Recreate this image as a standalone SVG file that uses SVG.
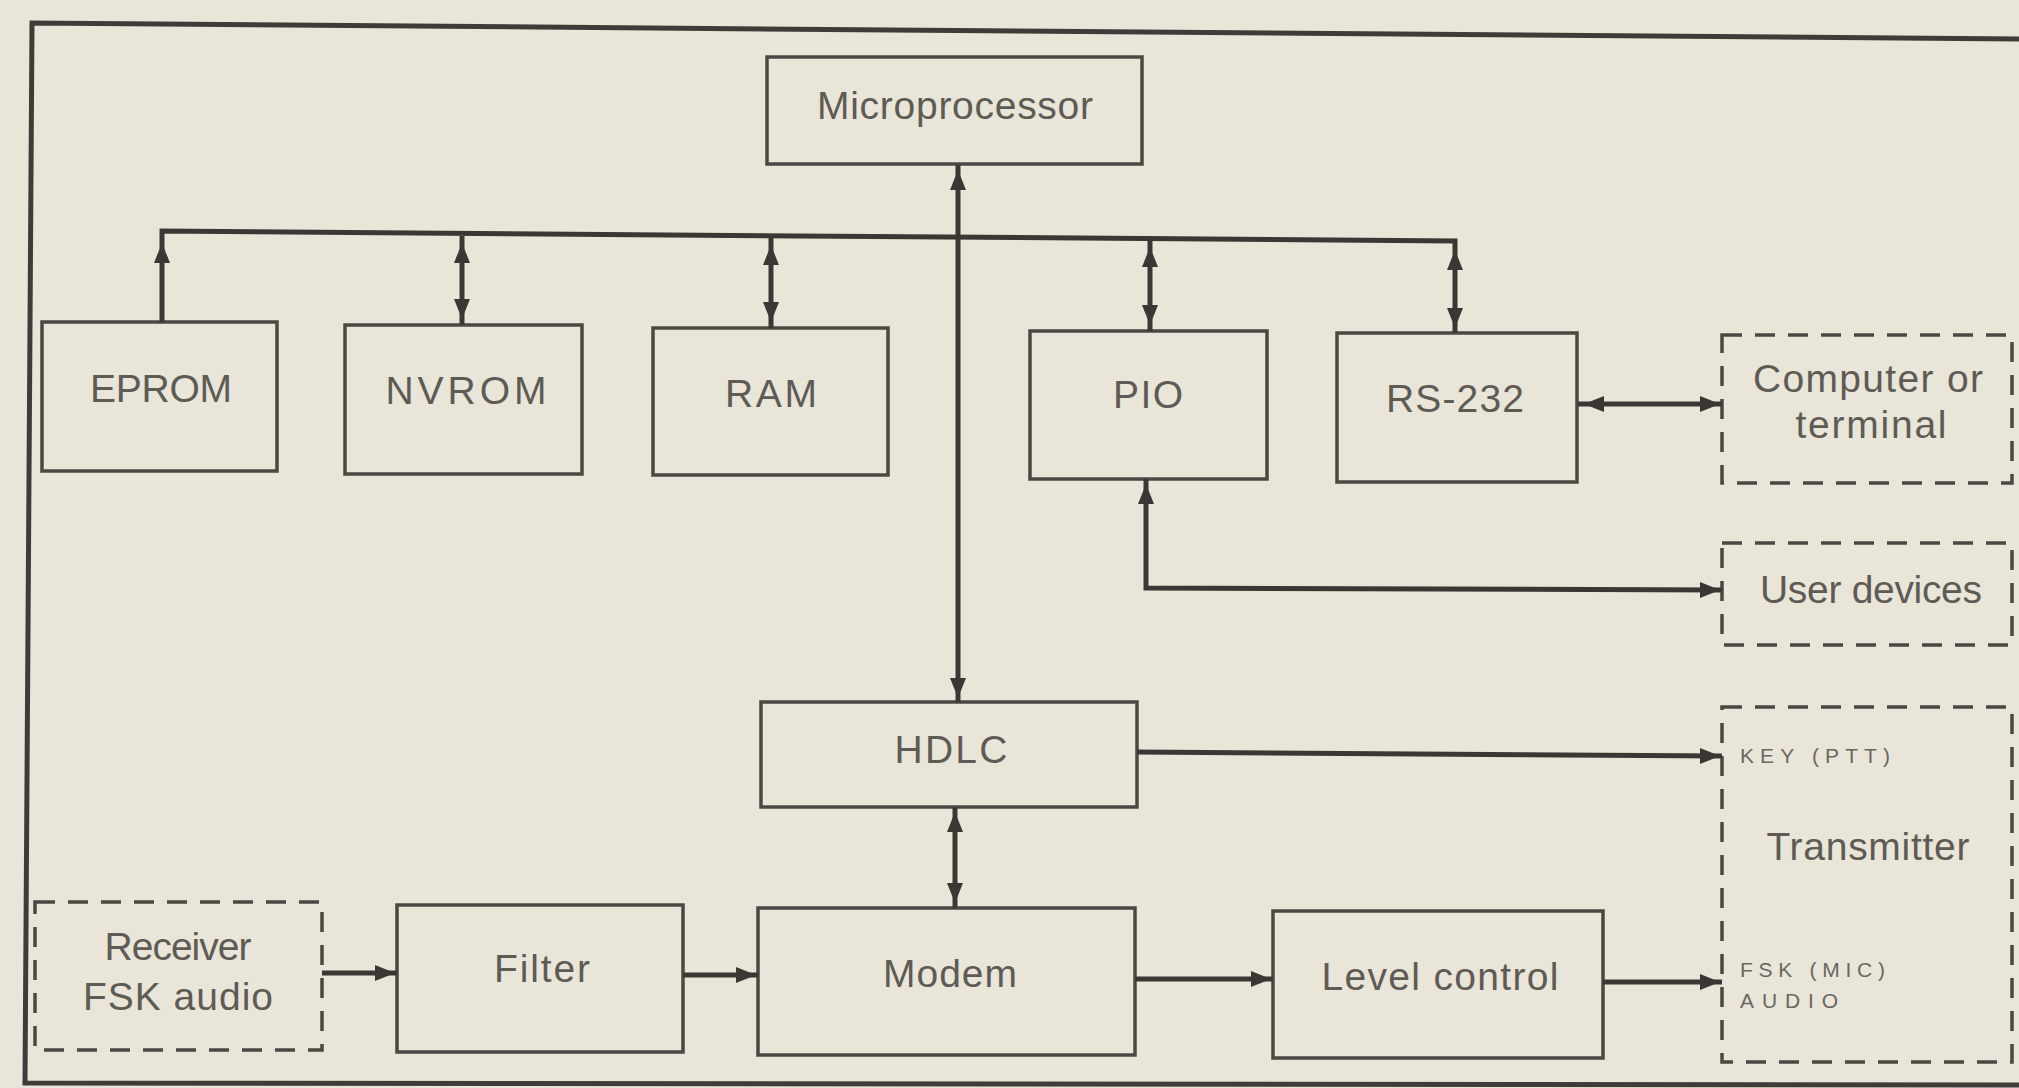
<svg xmlns="http://www.w3.org/2000/svg" xmlns:xlink="http://www.w3.org/1999/xlink" width="2019" height="1088" viewBox="0 0 2019 1088">
<style>
.bg{fill:#e9e5d9}
.box{fill:none;stroke:#4a4843;stroke-width:3.5}
.dbox{fill:none;stroke:#4a4843;stroke-width:3.5;stroke-dasharray:20 13}
.frame{fill:none;stroke:#3e3c38;stroke-width:5}
.wire{fill:none;stroke:#3a3834;stroke-width:5}
.ah{fill:#3a3834}
.lbl{font-family:"Liberation Sans",Arial,sans-serif;font-size:39px;fill:#5e5b55;text-anchor:middle}
.sm{font-family:"Liberation Sans",Arial,sans-serif;font-size:21px;fill:#6a6761}
</style>
<defs>
<path id="ah" d="M0,0 L-20,-8 L-20,8 Z"/>
</defs>
<rect class="bg" x="0" y="0" width="2019" height="1088"/>
<g id="frame">
<path class="frame" d="M2019,39 L32,23 L25,1083 L2019,1085"/>
</g>
<g id="microprocessor"><rect class="box" x="767" y="57" width="375" height="107"/><text class="lbl" x="955" y="119" textLength="276">Microprocessor</text></g>
<g id="eprom"><rect class="box" x="42" y="322" width="235" height="149"/><text class="lbl" x="161" y="402" textLength="142">EPROM</text></g>
<g id="nvrom"><rect class="box" x="345" y="325" width="237" height="149"/><text class="lbl" x="466" y="404" textLength="161">NVROM</text></g>
<g id="ram"><rect class="box" x="653" y="328" width="235" height="147"/><text class="lbl" x="771" y="407" textLength="92">RAM</text></g>
<g id="pio"><rect class="box" x="1030" y="331" width="237" height="148"/><text class="lbl" x="1148" y="408" textLength="70">PIO</text></g>
<g id="rs232"><rect class="box" x="1337" y="333" width="240" height="149"/><text class="lbl" x="1455" y="412" textLength="138">RS-232</text></g>
<g id="computer"><rect class="dbox" x="1722" y="335" width="290" height="148"/><text class="lbl" x="1868" y="392" textLength="230">Computer or</text><text class="lbl" x="1871" y="438" textLength="151">terminal</text></g>
<g id="user-devices"><rect class="dbox" x="1722" y="543" width="290" height="102"/><text class="lbl" x="1871" y="603" textLength="222">User devices</text></g>
<g id="hdlc"><rect class="box" x="761" y="702" width="376" height="105"/><text class="lbl" x="951" y="763" textLength="113">HDLC</text></g>
<g id="transmitter"><rect class="dbox" x="1722" y="707" width="290" height="355"/><text class="lbl" x="1868" y="860" textLength="203">Transmitter</text><text class="sm" x="1740" y="763" textLength="150">KEY (PTT)</text><text class="sm" x="1740" y="977" textLength="145">FSK (MIC)</text><text class="sm" x="1740" y="1008" textLength="98">AUDIO</text></g>
<g id="receiver"><rect class="dbox" x="35" y="902" width="287" height="148"/><text class="lbl" x="178" y="960" textLength="147">Receiver</text><text class="lbl" x="178" y="1010" textLength="190">FSK audio</text></g>
<g id="filter"><rect class="box" x="397" y="905" width="286" height="147"/><text class="lbl" x="542" y="982" textLength="96">Filter</text></g>
<g id="modem"><rect class="box" x="758" y="908" width="377" height="147"/><text class="lbl" x="950" y="987" textLength="134">Modem</text></g>
<g id="level-control"><rect class="box" x="1273" y="911" width="330" height="147"/><text class="lbl" x="1440" y="990" textLength="237">Level control</text></g>
<g id="connectors">
<path class="wire" d="M162,322 L162,231 L1455,241 L1455,333"/>
<path class="wire" d="M462,236 L462,325"/>
<path class="wire" d="M771,238 L771,328"/>
<path class="wire" d="M1150,240 L1150,331"/>
<path class="wire" d="M958,165 L958,702"/>
<path class="wire" d="M1146,479 L1146,588 L1722,590"/>
<path class="wire" d="M1578,404 L1722,404"/>
<path class="wire" d="M1137,752 L1722,756"/>
<path class="wire" d="M955,807 L955,908"/>
<path class="wire" d="M322,973 L397,973"/>
<path class="wire" d="M683,975 L758,975"/>
<path class="wire" d="M1135,979 L1273,979"/>
<path class="wire" d="M1603,982 L1722,982"/>
<use class="ah" xlink:href="#ah" transform="translate(162,243) rotate(-90)"/>
<use class="ah" xlink:href="#ah" transform="translate(462,243) rotate(-90)"/>
<use class="ah" xlink:href="#ah" transform="translate(462,319) rotate(90)"/>
<use class="ah" xlink:href="#ah" transform="translate(771,245) rotate(-90)"/>
<use class="ah" xlink:href="#ah" transform="translate(771,322) rotate(90)"/>
<use class="ah" xlink:href="#ah" transform="translate(1150,247) rotate(-90)"/>
<use class="ah" xlink:href="#ah" transform="translate(1150,325) rotate(90)"/>
<use class="ah" xlink:href="#ah" transform="translate(1455,250) rotate(-90)"/>
<use class="ah" xlink:href="#ah" transform="translate(1455,328) rotate(90)"/>
<use class="ah" xlink:href="#ah" transform="translate(958,170) rotate(-90)"/>
<use class="ah" xlink:href="#ah" transform="translate(958,698) rotate(90)"/>
<use class="ah" xlink:href="#ah" transform="translate(1146,484) rotate(-90)"/>
<use class="ah" xlink:href="#ah" transform="translate(1720,590)"/>
<use class="ah" xlink:href="#ah" transform="translate(1584,404) rotate(180)"/>
<use class="ah" xlink:href="#ah" transform="translate(1720,404)"/>
<use class="ah" xlink:href="#ah" transform="translate(1720,756)"/>
<use class="ah" xlink:href="#ah" transform="translate(955,812) rotate(-90)"/>
<use class="ah" xlink:href="#ah" transform="translate(955,903) rotate(90)"/>
<use class="ah" xlink:href="#ah" transform="translate(395,973)"/>
<use class="ah" xlink:href="#ah" transform="translate(756,975)"/>
<use class="ah" xlink:href="#ah" transform="translate(1271,979)"/>
<use class="ah" xlink:href="#ah" transform="translate(1720,982)"/>
</g>
</svg>
